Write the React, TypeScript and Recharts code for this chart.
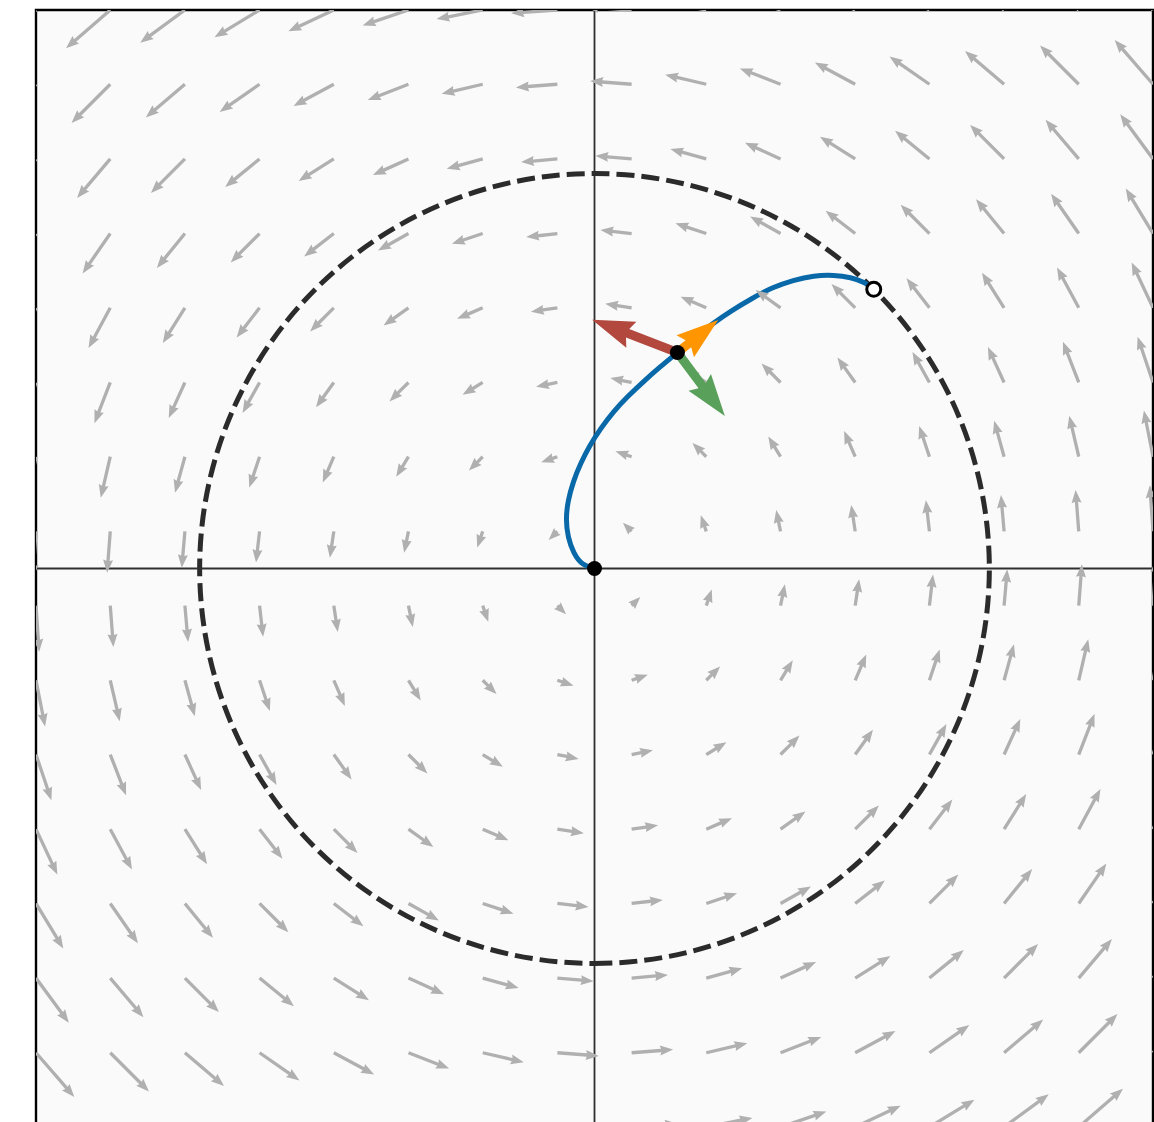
import React from "react";
import {
  ComposedChart,
  XAxis,
  YAxis,
  CartesianGrid,
  Line,
  Scatter,
  ReferenceLine,
  ReferenceArea,
} from "recharts";

// plot limits and the dashed unit circle
const LIM = 1.414;
const CIRCLE_R = 1;

// quiver grid (tails), columns left->right, rows top->bottom
const GRID_X = [-1.414, -1.226, -1.037, -0.848, -0.66, -0.471, -0.283, -0.094, 0.094, 0.283, 0.471, 0.66, 0.848, 1.037, 1.226, 1.414];
const GRID_Y = [1.414, 1.226, 1.037, 0.848, 0.66, 0.471, 0.283, 0.094, -0.094, -0.283, -0.471, -0.66, -0.848, -1.037, -1.226, -1.414];

// arrow components (data units), one row per GRID_Y
const FIELD_U = [
  [-0.111, -0.112, -0.113, -0.114, -0.115, -0.116, -0.117, -0.117, -0.117, -0.117, -0.116, -0.115, -0.114, -0.113, -0.112, -0.111],
  [-0.097, -0.098, -0.099, -0.101, -0.102, -0.103, -0.104, -0.105, -0.105, -0.104, -0.103, -0.102, -0.101, -0.099, -0.098, -0.097],
  [-0.083, -0.084, -0.086, -0.087, -0.089, -0.09, -0.091, -0.092, -0.092, -0.091, -0.09, -0.089, -0.087, -0.086, -0.084, -0.083],
  [-0.069, -0.07, -0.071, -0.073, -0.075, -0.077, -0.078, -0.079, -0.079, -0.078, -0.077, -0.075, -0.073, -0.071, -0.07, -0.069],
  [-0.054, -0.055, -0.056, -0.058, -0.06, -0.063, -0.065, -0.067, -0.067, -0.065, -0.063, -0.06, -0.058, -0.056, -0.055, -0.054],
  [-0.039, -0.04, -0.041, -0.043, -0.045, -0.048, -0.051, -0.054, -0.054, -0.051, -0.048, -0.045, -0.043, -0.041, -0.04, -0.039],
  [-0.023, -0.024, -0.025, -0.026, -0.028, -0.031, -0.035, -0.041, -0.041, -0.035, -0.031, -0.028, -0.026, -0.025, -0.024, -0.023],
  [-0.008, -0.008, -0.008, -0.009, -0.01, -0.011, -0.014, -0.022, -0.022, -0.014, -0.011, -0.01, -0.009, -0.008, -0.008, -0.008],
  [0.008, 0.008, 0.008, 0.009, 0.01, 0.011, 0.014, 0.022, 0.022, 0.014, 0.011, 0.01, 0.009, 0.008, 0.008, 0.008],
  [0.023, 0.024, 0.025, 0.026, 0.028, 0.031, 0.035, 0.041, 0.041, 0.035, 0.031, 0.028, 0.026, 0.025, 0.024, 0.023],
  [0.039, 0.04, 0.041, 0.043, 0.045, 0.048, 0.051, 0.054, 0.054, 0.051, 0.048, 0.045, 0.043, 0.041, 0.04, 0.039],
  [0.054, 0.055, 0.056, 0.058, 0.06, 0.063, 0.065, 0.067, 0.067, 0.065, 0.063, 0.06, 0.058, 0.056, 0.055, 0.054],
  [0.069, 0.07, 0.071, 0.073, 0.075, 0.077, 0.078, 0.079, 0.079, 0.078, 0.077, 0.075, 0.073, 0.071, 0.07, 0.069],
  [0.083, 0.084, 0.086, 0.087, 0.089, 0.09, 0.091, 0.092, 0.092, 0.091, 0.09, 0.089, 0.087, 0.086, 0.084, 0.083],
  [0.097, 0.098, 0.099, 0.101, 0.102, 0.103, 0.104, 0.105, 0.105, 0.104, 0.103, 0.102, 0.101, 0.099, 0.098, 0.097],
  [0.111, 0.112, 0.113, 0.114, 0.115, 0.116, 0.117, 0.117, 0.117, 0.117, 0.116, 0.115, 0.114, 0.113, 0.112, 0.111],
];
const FIELD_V = [
  [-0.111, -0.097, -0.083, -0.069, -0.054, -0.039, -0.023, -0.008, 0.008, 0.023, 0.039, 0.054, 0.069, 0.083, 0.097, 0.111],
  [-0.112, -0.098, -0.084, -0.07, -0.055, -0.04, -0.024, -0.008, 0.008, 0.024, 0.04, 0.055, 0.07, 0.084, 0.098, 0.112],
  [-0.113, -0.099, -0.086, -0.071, -0.056, -0.041, -0.025, -0.008, 0.008, 0.025, 0.041, 0.056, 0.071, 0.086, 0.099, 0.113],
  [-0.114, -0.101, -0.087, -0.073, -0.058, -0.043, -0.026, -0.009, 0.009, 0.026, 0.043, 0.058, 0.073, 0.087, 0.101, 0.114],
  [-0.115, -0.102, -0.089, -0.075, -0.06, -0.045, -0.028, -0.01, 0.01, 0.028, 0.045, 0.06, 0.075, 0.089, 0.102, 0.115],
  [-0.116, -0.103, -0.09, -0.077, -0.063, -0.048, -0.031, -0.011, 0.011, 0.031, 0.048, 0.063, 0.077, 0.09, 0.103, 0.116],
  [-0.117, -0.104, -0.091, -0.078, -0.065, -0.051, -0.035, -0.014, 0.014, 0.035, 0.051, 0.065, 0.078, 0.091, 0.104, 0.117],
  [-0.117, -0.105, -0.092, -0.079, -0.067, -0.054, -0.041, -0.022, 0.022, 0.041, 0.054, 0.067, 0.079, 0.092, 0.105, 0.117],
  [-0.117, -0.105, -0.092, -0.079, -0.067, -0.054, -0.041, -0.022, 0.022, 0.041, 0.054, 0.067, 0.079, 0.092, 0.105, 0.117],
  [-0.117, -0.104, -0.091, -0.078, -0.065, -0.051, -0.035, -0.014, 0.014, 0.035, 0.051, 0.065, 0.078, 0.091, 0.104, 0.117],
  [-0.116, -0.103, -0.09, -0.077, -0.063, -0.048, -0.031, -0.011, 0.011, 0.031, 0.048, 0.063, 0.077, 0.09, 0.103, 0.116],
  [-0.115, -0.102, -0.089, -0.075, -0.06, -0.045, -0.028, -0.01, 0.01, 0.028, 0.045, 0.06, 0.075, 0.089, 0.102, 0.115],
  [-0.114, -0.101, -0.087, -0.073, -0.058, -0.043, -0.026, -0.009, 0.009, 0.026, 0.043, 0.058, 0.073, 0.087, 0.101, 0.114],
  [-0.113, -0.099, -0.086, -0.071, -0.056, -0.041, -0.025, -0.008, 0.008, 0.025, 0.041, 0.056, 0.071, 0.086, 0.099, 0.113],
  [-0.112, -0.098, -0.084, -0.07, -0.055, -0.04, -0.024, -0.008, 0.008, 0.024, 0.04, 0.055, 0.07, 0.084, 0.098, 0.112],
  [-0.111, -0.097, -0.083, -0.069, -0.054, -0.039, -0.023, -0.008, 0.008, 0.023, 0.039, 0.054, 0.069, 0.083, 0.097, 0.111],
];

// trajectory from the origin to the circle
const PATH_X = [0, -0.03, -0.052, -0.066, -0.071, -0.066, -0.053, -0.035, -0.012, 0.016, 0.048, 0.085, 0.125, 0.167, 0.21, 0.254, 0.3, 0.348, 0.398, 0.45, 0.503, 0.555, 0.605, 0.648, 0.682, 0.707];
const PATH_Y = [0, 0.012, 0.04, 0.08, 0.125, 0.172, 0.22, 0.265, 0.31, 0.354, 0.396, 0.436, 0.474, 0.511, 0.547, 0.584, 0.62, 0.653, 0.683, 0.71, 0.729, 0.74, 0.742, 0.736, 0.724, 0.707];

const START = [0, 0];
const END = [0.707, 0.707];
const PROBE = [0.21, 0.547];
const FORCE = [-0.216, 0.083];
const TANGENT = [0.103, 0.082];
const NORMAL = [0.12, -0.161];

// layout
const W = 1154;
const H = 1140;
const MARGIN = { top: 10, right: 1, bottom: 13, left: 36 };
const PX = (W - MARGIN.left - MARGIN.right) / (2 * LIM);

const fieldData: any[] = [];
GRID_Y.forEach((y, j) =>
  GRID_X.forEach((x, i) => {
    const u = FIELD_U[j][i];
    const v = FIELD_V[j][i];
    fieldData.push({ x, y }, { x: x + u, y: y + v, u, v });
  })
);

const pathData = PATH_X.map((x, i) => ({ x, y: PATH_Y[i] }));

const vecData = (d: number[]) => [
  { x: PROBE[0], y: PROBE[1] },
  { x: PROBE[0] + d[0], y: PROBE[1] + d[1], u: d[0], v: d[1] },
];

function arrowPoints(x0: number, y0: number, x1: number, y1: number, w: number, hw: number, hl: number, hal: number) {
  const dx = x1 - x0;
  const dy = y1 - y0;
  const L = Math.hypot(dx, dy);
  if (L < 0.5) return null;
  const ux = dx / L;
  const uy = dy / L;
  const nx = -uy;
  const ny = ux;
  const s = L < hl ? L / hl : 1;
  const w2 = (w * s) / 2;
  const h2 = (hw * s) / 2;
  const HL = hl * s;
  const HA = hal * s;
  const pts = [
    [0, w2],
    [L - HA, w2],
    [L - HL, h2],
    [L, 0],
    [L - HL, -h2],
    [L - HA, -w2],
    [0, -w2],
  ];
  return pts.map(([a, b]) => `${x0 + ux * a + nx * b},${y0 + uy * a + ny * b}`).join(" ");
}

const arrowDot = (color: string, w: number, hw: number, hl: number, hal: number) => (props: any) => {
  const { cx, cy, index, points, payload } = props;
  if (index % 2 === 0 || cx == null || cy == null) return <g key={`d-${index}`} />;
  const prev = points && points[index - 1];
  const tx = prev && prev.x != null ? prev.x : cx - payload.u * PX;
  const ty = prev && prev.y != null ? prev.y : cy + payload.v * PX;
  const p = arrowPoints(tx, ty, cx, cy, w, hw, hl, hal);
  if (!p) return <g key={`d-${index}`} />;
  return <polygon key={`d-${index}`} points={p} fill={color} stroke="none" />;
};

const circleShape = (props: any) => {
  const { x, y, width, height } = props;
  const cx = x + width / 2;
  const cy = y + height / 2;
  const rx = width / 2;
  const ry = height / 2;
  return (
    <path
      d={`M${cx},${cy + ry} A${rx},${ry} 0 0 0 ${cx},${cy - ry} A${rx},${ry} 0 0 0 ${cx},${cy + ry}`}
      fill="none"
      stroke="#2b2b2b"
      strokeWidth={5}
      strokeDasharray="18 7"
    />
  );
};

const marker = (fill: string) => (props: any) => (
  <circle cx={props.cx} cy={props.cy} r={fill === "#fff" ? 7 : 7.5} fill={fill} stroke="#000" strokeWidth={fill === "#fff" ? 3 : 0} />
);

export default function App() {
  return (
    <div style={{ position: "fixed", left: 0, top: 0, width: W, height: 1122, overflow: "hidden", background: "#fff" }}>
      <ComposedChart width={W} height={H} margin={MARGIN}>
        <CartesianGrid fill="#fafafa" horizontal={false} vertical={false} stroke="none" />
        <XAxis type="number" dataKey="x" domain={[-LIM, LIM]} allowDataOverflow hide />
        <YAxis type="number" dataKey="y" domain={[-LIM, LIM]} allowDataOverflow hide />

        <Line
          data={fieldData}
          dataKey="y"
          stroke="none"
          dot={arrowDot("#b0b0b0", 3.3, 10, 13, 12)}
          activeDot={false}
          isAnimationActive={false}
        />

        <ReferenceLine x={0} stroke="#2e2e2e" strokeWidth={1.8} />
        <ReferenceLine y={0} stroke="#2e2e2e" strokeWidth={1.8} />

        <ReferenceArea
          x1={-CIRCLE_R}
          x2={CIRCLE_R}
          y1={-CIRCLE_R}
          y2={CIRCLE_R}
          ifOverflow="visible"
          shape={circleShape}
        />

        <Line
          data={pathData}
          dataKey="y"
          type="natural"
          stroke="#0868a8"
          strokeWidth={5}
          dot={false}
          activeDot={false}
          isAnimationActive={false}
        />

        <Line data={vecData(FORCE)} dataKey="y" stroke="none" dot={arrowDot("#b2483e", 9, 28, 42, 38)} activeDot={false} isAnimationActive={false} />
        <Line data={vecData(TANGENT)} dataKey="y" stroke="none" dot={arrowDot("#ff9500", 9, 28, 42, 38)} activeDot={false} isAnimationActive={false} />
        <Line data={vecData(NORMAL)} dataKey="y" stroke="none" dot={arrowDot("#59a05a", 9, 28, 42, 38)} activeDot={false} isAnimationActive={false} />

        <Scatter data={[{ x: START[0], y: START[1] }]} shape={marker("#000")} isAnimationActive={false} />
        <Scatter data={[{ x: PROBE[0], y: PROBE[1] }]} shape={marker("#000")} isAnimationActive={false} />
        <Scatter data={[{ x: END[0], y: END[1] }]} shape={marker("#fff")} isAnimationActive={false} />

        <ReferenceArea x1={-LIM} x2={LIM} y1={-LIM} y2={LIM} ifOverflow="visible" fill="none" stroke="#000" strokeWidth={2.4} />
      </ComposedChart>
    </div>
  );
}
